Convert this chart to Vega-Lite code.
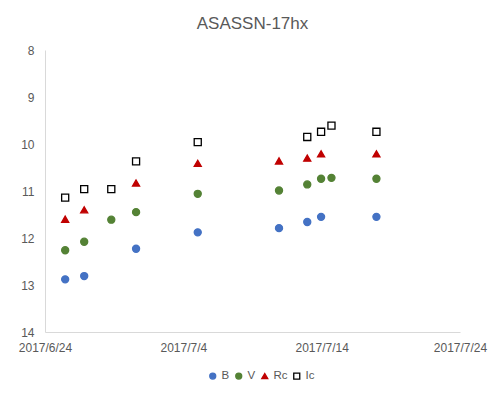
{
  "$schema": "https://vega.github.io/schema/vega-lite/v6.json",
  "width": 415,
  "height": 282,
  "autosize": "none",
  "padding": {"left": 45, "top": 50, "right": 40, "bottom": 65},
  "background": "white",
  "title": {"text": "ASASSN-17hx", "fontSize": 17, "font": "Liberation Sans", "fontWeight": "normal", "color": "#595959", "offset": 11, "anchor": "middle"},
  "config": {"view": {"stroke": null}, "font": "Liberation Sans"},
  "data": {"values": [
    {"t": "2017-06-25T11:00", "band": "B", "mag": 12.88},
    {"t": "2017-06-26T20:00", "band": "B", "mag": 12.81},
    {"t": "2017-06-30T14:00", "band": "B", "mag": 12.23},
    {"t": "2017-07-05T01:00", "band": "B", "mag": 11.88},
    {"t": "2017-07-10T22:00", "band": "B", "mag": 11.79},
    {"t": "2017-07-12T23:00", "band": "B", "mag": 11.66},
    {"t": "2017-07-13T23:00", "band": "B", "mag": 11.55},
    {"t": "2017-07-17T23:00", "band": "B", "mag": 11.55},
    {"t": "2017-06-25T11:00", "band": "V", "mag": 12.26},
    {"t": "2017-06-26T20:00", "band": "V", "mag": 12.08},
    {"t": "2017-06-28T19:00", "band": "V", "mag": 11.61},
    {"t": "2017-06-30T14:00", "band": "V", "mag": 11.45},
    {"t": "2017-07-05T01:00", "band": "V", "mag": 11.06},
    {"t": "2017-07-10T22:00", "band": "V", "mag": 10.99},
    {"t": "2017-07-12T23:00", "band": "V", "mag": 10.86},
    {"t": "2017-07-13T23:00", "band": "V", "mag": 10.74},
    {"t": "2017-07-14T17:00", "band": "V", "mag": 10.72},
    {"t": "2017-07-17T23:00", "band": "V", "mag": 10.74},
    {"t": "2017-06-25T11:00", "band": "Rc", "mag": 11.6},
    {"t": "2017-06-26T20:00", "band": "Rc", "mag": 11.4},
    {"t": "2017-06-30T14:00", "band": "Rc", "mag": 10.83},
    {"t": "2017-07-05T01:00", "band": "Rc", "mag": 10.41},
    {"t": "2017-07-10T22:00", "band": "Rc", "mag": 10.36},
    {"t": "2017-07-12T23:00", "band": "Rc", "mag": 10.3},
    {"t": "2017-07-13T23:00", "band": "Rc", "mag": 10.21},
    {"t": "2017-07-17T23:00", "band": "Rc", "mag": 10.21},
    {"t": "2017-06-25T11:00", "band": "Ic", "mag": 11.14},
    {"t": "2017-06-26T20:00", "band": "Ic", "mag": 10.96},
    {"t": "2017-06-28T19:00", "band": "Ic", "mag": 10.96},
    {"t": "2017-06-30T14:00", "band": "Ic", "mag": 10.37},
    {"t": "2017-07-05T01:00", "band": "Ic", "mag": 9.96},
    {"t": "2017-07-12T23:00", "band": "Ic", "mag": 9.85},
    {"t": "2017-07-13T23:00", "band": "Ic", "mag": 9.74},
    {"t": "2017-07-14T17:00", "band": "Ic", "mag": 9.61},
    {"t": "2017-07-17T23:00", "band": "Ic", "mag": 9.74}
  ]},
  "mark": {"type": "point", "filled": false, "opacity": 1, "strokeWidth": 1.3},
  "encoding": {
    "x": {
      "field": "t", "type": "temporal",
      "scale": {"domain": [{"year": 2017, "month": 6, "date": 24}, {"year": 2017, "month": 7, "date": 24}], "nice": false},
      "axis": {
        "title": null, "grid": false, "ticks": false,
        "values": [{"year": 2017, "month": 6, "date": 24}, {"year": 2017, "month": 7, "date": 4}, {"year": 2017, "month": 7, "date": 14}, {"year": 2017, "month": 7, "date": 24}],
        "format": "%Y/%-m/%-d", "labelFontSize": 12, "labelColor": "#595959",
        "labelPadding": 10, "domainColor": "#d9d9d9", "labelFlush": false, "labelOverlap": false
      }
    },
    "y": {
      "field": "mag", "type": "quantitative",
      "scale": {"domain": [8, 14], "reverse": true, "nice": false, "zero": false},
      "axis": {
        "title": null, "grid": false, "ticks": false, "values": [8, 9, 10, 11, 12, 13, 14],
        "labelFontSize": 12, "labelColor": "#595959", "labelPadding": 11, "domainColor": "#d9d9d9"
      }
    },
    "shape": {"field": "band", "type": "nominal", "scale": {"domain": ["B", "V", "Rc", "Ic"], "range": ["circle", "circle", "triangle-up", "square"]}, "legend": {"orient": "none", "legendX": 162, "legendY": 320, "direction": "horizontal", "title": null, "labelFontSize": 11.5, "labelColor": "#595959", "symbolSize": 36, "columnPadding": 3, "labelOffset": 3, "symbolStrokeWidth": 1.3}},
    "fill": {"field": "band", "type": "nominal", "scale": {"domain": ["B", "V", "Rc", "Ic"], "range": ["#4472C4", "#548235", "#C00000", "#ffffff"]}, "legend": {"orient": "none", "legendX": 162, "legendY": 320, "direction": "horizontal", "title": null, "labelFontSize": 11.5, "labelColor": "#595959", "symbolSize": 36, "columnPadding": 3, "labelOffset": 3, "symbolStrokeWidth": 1.3}},
    "stroke": {"field": "band", "type": "nominal", "scale": {"domain": ["B", "V", "Rc", "Ic"], "range": ["#4472C4", "#548235", "#C00000", "#000000"]}, "legend": {"orient": "none", "legendX": 162, "legendY": 320, "direction": "horizontal", "title": null, "labelFontSize": 11.5, "labelColor": "#595959", "symbolSize": 36, "columnPadding": 3, "labelOffset": 3, "symbolStrokeWidth": 1.3}},
    "size": {"value": 50}
  }
}
